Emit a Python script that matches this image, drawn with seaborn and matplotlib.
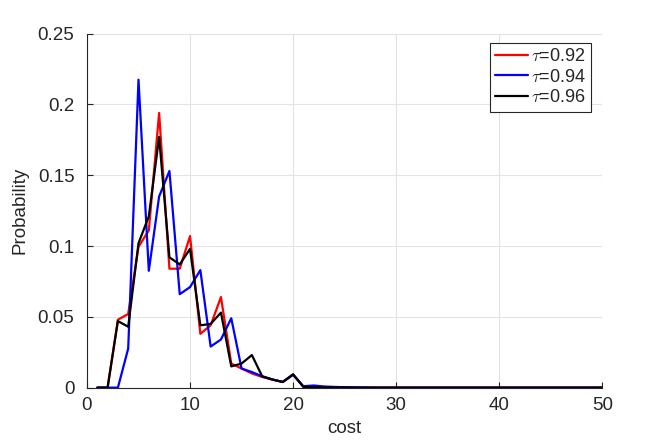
import numpy as np
import pandas as pd
import matplotlib
matplotlib.use("Agg")
import matplotlib.pyplot as plt
import seaborn as sns

cost = list(range(1, 51))
p_092 = [0, 0, 0.048, 0.052, 0.0995, 0.111, 0.194, 0.084, 0.084, 0.107,
         0.038, 0.044, 0.064, 0.017, 0.0135, 0.010, 0.0075, 0.0057, 0.004, 0.0094,
         0.0005, 0.0003, 0.0002, 0.0001, 0.0001, 0, 0, 0, 0, 0,
         0, 0, 0, 0, 0, 0, 0, 0, 0, 0,
         0, 0, 0, 0, 0, 0, 0, 0, 0, 0]
p_094 = [0, 0, 0, 0.0276, 0.2175, 0.0825, 0.135, 0.153, 0.066, 0.071,
         0.083, 0.029, 0.034, 0.049, 0.0135, 0.011, 0.008, 0.0057, 0.004, 0.009,
         0.001, 0.0015, 0.0008, 0.0005, 0.0003, 0.0002, 0.0001, 0, 0, 0,
         0, 0, 0, 0, 0, 0, 0, 0, 0, 0,
         0, 0, 0, 0, 0, 0, 0, 0, 0, 0]
p_096 = [0, 0, 0.047, 0.043, 0.102, 0.121, 0.177, 0.092, 0.087, 0.098,
         0.044, 0.045, 0.053, 0.015, 0.017, 0.023, 0.008, 0.0057, 0.004, 0.0094,
         0.0005, 0.0003, 0.0002, 0.0001, 0.0001, 0, 0, 0, 0, 0,
         0, 0, 0, 0, 0, 0, 0, 0, 0, 0,
         0, 0, 0, 0, 0, 0, 0, 0, 0, 0]
labels = [r"$\tau$=0.92", r"$\tau$=0.94", r"$\tau$=0.96"]
colors = ["#ff0000", "#0000ff", "#000000"]
x_ticks = [0, 10, 20, 30, 40, 50]
y_ticks = [0, 0.05, 0.1, 0.15, 0.2, 0.25]
y_tick_labels = ["0", "0.05", "0.1", "0.15", "0.2", "0.25"]

df = pd.concat([
    pd.DataFrame({"cost": cost, "Probability": vals, "tau": lab})
    for vals, lab in zip([p_092, p_094, p_096], labels)
])

sns.set_theme(style="white")
plt.rcParams["font.family"] = ["Liberation Sans", "DejaVu Sans"]
plt.rcParams["mathtext.fontset"] = "cm"

fig = plt.figure(figsize=(6.64, 4.43), dpi=100)
ax = fig.add_axes([0.131, 0.125, 0.776, 0.799])
sns.lineplot(data=df, x="cost", y="Probability", hue="tau", hue_order=labels,
             palette=colors, linewidth=1.6, ax=ax, legend=True)

ax.set_xlim(0, 50)
ax.set_ylim(0, 0.25)
ax.set_xticks(x_ticks)
ax.set_yticks(y_ticks)
ax.set_yticklabels(y_tick_labels)
ax.grid(True, color="#e3e3e3", linewidth=0.8)
ax.set_axisbelow(True)
for s in ["top", "right"]:
    ax.spines[s].set_visible(False)
for s in ["left", "bottom"]:
    ax.spines[s].set_color("#262626")
    ax.spines[s].set_linewidth(0.8)
ax.tick_params(direction="in", length=4, width=0.8, colors="#262626",
               labelsize=13.5, left=True, bottom=True)
ax.tick_params(axis="x", pad=7)
ax.tick_params(axis="y", pad=9)
ax.set_xlabel("cost", fontsize=13.5, color="#262626")
ax.set_ylabel("Probability", fontsize=13.5, color="#262626")
ax.xaxis.set_label_coords(0.5, -0.092)
ax.yaxis.set_label_coords(-0.113, 0.5)

leg = ax.legend(loc="upper right", bbox_to_anchor=(0.978, 0.975), fontsize=13,
                frameon=True, fancybox=False, framealpha=1, edgecolor="#262626",
                handlelength=1.8, handletextpad=0.15, borderpad=0.3,
                labelspacing=0.2, borderaxespad=0)
leg.get_frame().set_linewidth(0.8)

fig.savefig("out.png", dpi=100)
